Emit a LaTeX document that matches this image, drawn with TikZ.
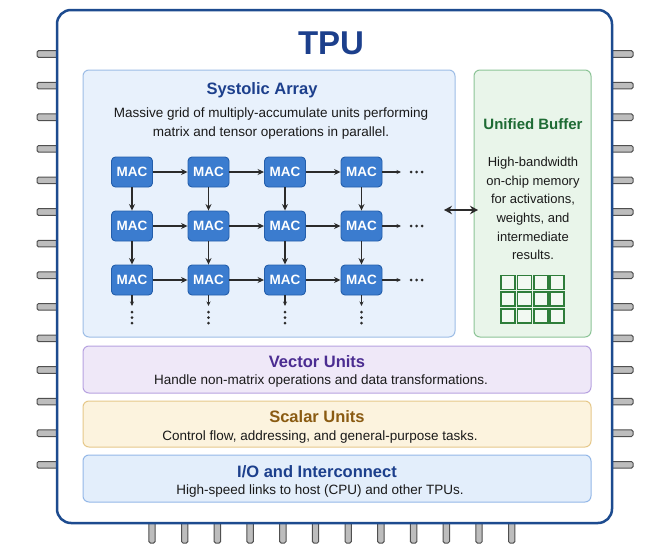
\documentclass[tikz,border=0pt]{standalone}
\usepackage{fontspec}
\setmainfont{Liberation Sans}
\usetikzlibrary{arrows.meta}
\definecolor{chipblue}{HTML}{1D4B8F}
\definecolor{titleblue}{HTML}{1C3F8C}
\definecolor{sysfill}{HTML}{E8F1FC}
\definecolor{sysdraw}{HTML}{9DBDE6}
\definecolor{macfill}{HTML}{3B7CCF}
\definecolor{macdraw}{HTML}{235EAB}
\definecolor{arrowgray}{HTML}{2B2B2B}
\definecolor{ubfill}{HTML}{E9F5EA}
\definecolor{ubdraw}{HTML}{8CC497}
\definecolor{ubtitle}{HTML}{1E6B34}
\definecolor{ubgrid}{HTML}{2E7D3A}
\definecolor{vecfill}{HTML}{EFE8F8}
\definecolor{vecdraw}{HTML}{B7A2E0}
\definecolor{vectitle}{HTML}{4B2C91}
\definecolor{scafill}{HTML}{FCF3DE}
\definecolor{scadraw}{HTML}{E6C88A}
\definecolor{scatitle}{HTML}{8A5B12}
\definecolor{iofill}{HTML}{E3EEFB}
\definecolor{iodraw}{HTML}{94B8E8}
\definecolor{pinfill}{HTML}{BDBDBD}
\definecolor{pindraw}{HTML}{505050}
\definecolor{txt}{HTML}{1A1A1A}
\begin{document}
\begin{tikzpicture}[x=1pt,y=-1pt,
  chip/.style={draw=chipblue,line width=2.5pt,fill=white,rounded corners=14pt,minimum width=555pt,minimum height=513pt,inner sep=0pt},
  region/.style={line width=1pt,rounded corners=6pt,inner sep=0pt},
  pin/.style={draw=pindraw,fill=pinfill,line width=1pt,rounded corners=1.5pt},
  mac/.style={draw=macdraw,fill=macfill,line width=0.9pt,rounded corners=4pt,minimum width=41pt,minimum height=30pt,inner sep=0pt,text=white,font=\fontsize{13.5}{15}\selectfont\bfseries},
  arr/.style={draw=arrowgray,line width=1.3pt,-{Stealth[length=6.5pt,width=6pt]}},
  stub/.style={draw=arrowgray,line width=1.2pt,-{Stealth[length=4.5pt,width=4pt]}},
  dbl/.style={draw=arrowgray,line width=2pt,{Stealth[length=8pt,width=8.5pt]}-{Stealth[length=8pt,width=8.5pt]}},
  ttl/.style={font=\fontsize{16.5}{18}\selectfont\bfseries,inner sep=0pt},
  desc/.style={font=\fontsize{13.5}{15}\selectfont,text=txt,inner sep=0pt,align=center},
  dotc/.style={fill=arrowgray,radius=1.5pt},
  gridsq/.style={draw=ubgrid,line width=1.8pt,fill=ubfill!60!white}
]
\useasboundingbox (0,0) rectangle (670,557);
\fill[white] (0,0) rectangle (670,557);

% pins
\foreach \k in {0,...,13}{
  \pgfmathsetmacro\py{54+31.6*\k}
  \draw[pin] (37,\py-3.3) rectangle (60,\py+3.3);
  \draw[pin] (609,\py-3.3) rectangle (633,\py+3.3);
}
\foreach \k in {0,...,11}{
  \pgfmathsetmacro\px{152+32.7*\k}
  \draw[pin] (\px-3.2,520) rectangle (\px+3.2,543);
}

% chip
\node[chip] (chip) at (334.5,266.5) {};
\node[font=\fontsize{33}{36}\selectfont\bfseries,text=titleblue,inner sep=0pt] (tpu) at (331,43) {TPU};

% systolic array
\node[region,draw=sysdraw,fill=sysfill,minimum width=372pt,minimum height=267pt] (sys) at (269,203.5) {};
\node[ttl,text=titleblue] (systitle) at (262,90) {Systolic Array};
\node[desc] (sysdesc1) at (271,114) {Massive grid of multiply-accumulate units performing};
\node[desc] (sysdesc2) at (271,133) {matrix and tensor operations in parallel.};

% MAC grid
\foreach \r/\y in {1/172,2/226,3/280}{
  \foreach \c/\x in {1/132,2/208.5,3/285,4/361.5}{
    \node[mac] (m\r\c) at (\x,\y) {MAC};
  }
}
\foreach \r in {1,2,3}{
  \draw[arr] (m\r1) -- (m\r2);
  \draw[arr] (m\r2) -- (m\r3);
  \draw[arr] (m\r3) -- (m\r4);
}
\foreach \c in {1,2,3,4}{
  \draw[arr] (m1\c) -- (m2\c);
  \draw[arr] (m2\c) -- (m3\c);
}
% right stubs and dots
\foreach \r/\y in {1/172,2/226,3/280}{
  \coordinate (e\r) at (401,\y);
  \draw[stub] (m\r4) -- (e\r);
  \coordinate (h\r) at (416.5,\y);
  \fill[dotc] ([xshift=-5.5pt]h\r) circle;
  \fill[dotc] (h\r) circle;
  \fill[dotc] ([xshift=5.5pt]h\r) circle;
}
% down stubs and dots
\foreach \c/\x in {1/132,2/208.5,3/285,4/361.5}{
  \coordinate (s\c) at (\x,306);
  \draw[stub] (m3\c) -- (s\c);
  \coordinate (v\c) at (\x,317.5);
  \fill[dotc] ([yshift=5.5pt]v\c) circle;
  \fill[dotc] (v\c) circle;
  \fill[dotc] ([yshift=-5.5pt]v\c) circle;
}

% unified buffer
\node[region,draw=ubdraw,fill=ubfill,minimum width=117pt,minimum height=267pt] (ub) at (532.5,203.5) {};
\node[font=\fontsize{15}{18}\selectfont\bfseries,text=ubtitle,inner sep=0pt] (ubtitle) at (533,124) {Unified Buffer};
\node[desc,font=\fontsize{13}{18.7}\selectfont] (ubdesc) at (533,208.5) {High-bandwidth\\on-chip memory\\for activations,\\weights, and\\intermediate\\results.};
\foreach \i in {0,...,3}{
  \foreach \j in {0,...,2}{
    \draw[gridsq] (501+16.4*\i,275.5+16.8*\j) rectangle ++(14,14);
  }
}

% double arrow
\coordinate (da) at (444,210);
\coordinate (db) at (478,210);
\draw[dbl] (da) -- (db);

% vector units
\node[region,draw=vecdraw,fill=vecfill,minimum width=508pt,minimum height=47pt] (vec) at (337,369.5) {};
\node[ttl,text=vectitle] (vectitle) at (317,362) {Vector Units};
\node[desc] (vecdesc) at (321,381.5) {Handle non-matrix operations and data transformations.};

% scalar units
\node[region,draw=scadraw,fill=scafill,minimum width=508pt,minimum height=46pt] (sca) at (337,424) {};
\node[ttl,text=scatitle] (scatitle) at (317,417) {Scalar Units};
\node[desc] (scadesc) at (320,437) {Control flow, addressing, and general-purpose tasks.};

% I/O
\node[region,draw=iodraw,fill=iofill,minimum width=508pt,minimum height=47pt] (io) at (337,478.5) {};
\node[ttl,text=titleblue] (iotitle) at (317,471.5) {I/O and Interconnect};
\node[desc] (iodesc) at (320,491.5) {High-speed links to host (CPU) and other TPUs.};
\end{tikzpicture}
\end{document}
